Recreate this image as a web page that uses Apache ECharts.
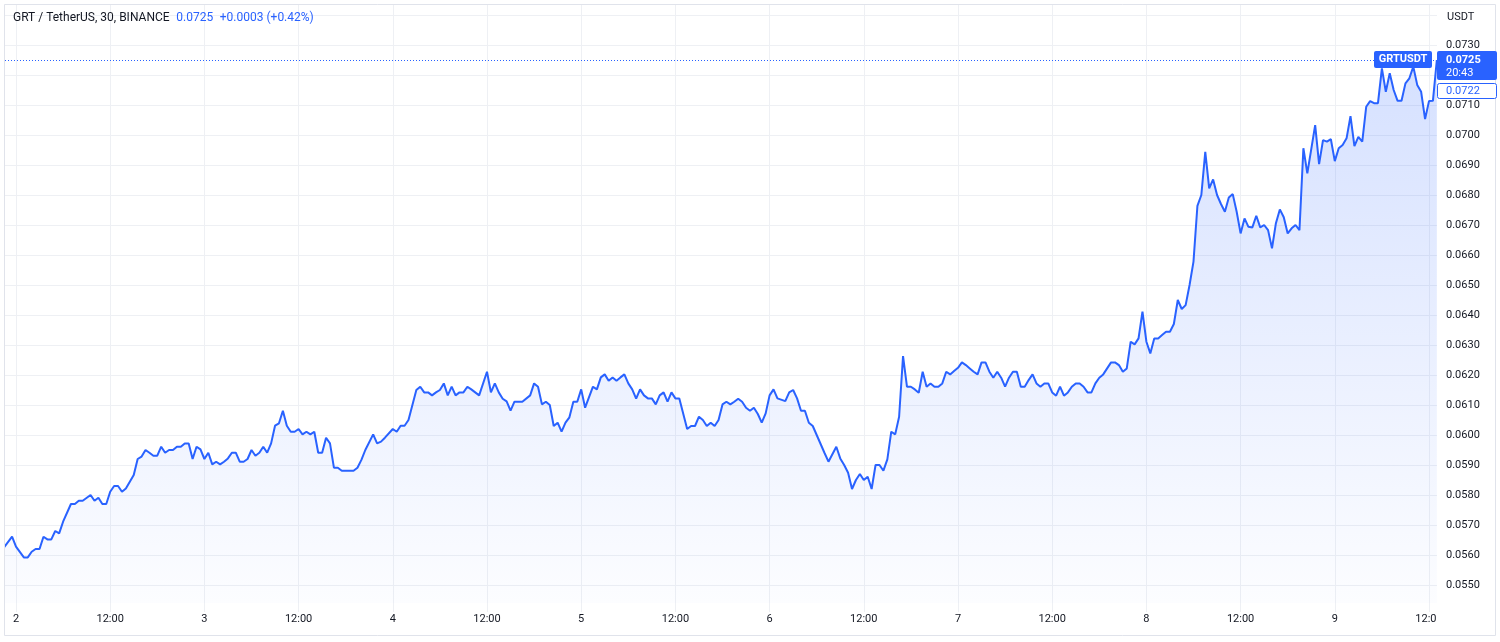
<!DOCTYPE html>
<html><head><meta charset="utf-8">
<script src="https://cdn.jsdelivr.net/npm/echarts@6/dist/echarts.min.js"></script>
<style>html,body{margin:0;padding:0;background:#fff}#c{width:1500px;height:642px}</style>
</head><body><div id="c"></div><script>
// 30-minute bars counted from day 2, 00:00
const bars = [-3,-1,0,2,3,4,5,6,7,8,9,10,11,12,14,15,16,17,19,20,21,22,23,24,25,26,27,28,30,31,32,33,34,35,36,37,38,39,40,41,42,43,44,45,46,47,48,49,50,51,52,53,54,55,56,57,58,59,60,61,62,63,64,65,66,67,68,69,70,71,72,73,74,75,76,77,78,79,80,81,82,83,84,86,87,88,89,91,92,93,94,96,97,98,99,100,102,103,104,105,106,107,108,109,110,111,112,113,114,115,116,117,118,120,121,122,123,124,125,126,127,129,131,132,133,134,135,136,137,138,139,140,141,142,143,144,145,147,148,149,150,151,152,153,154,155,156,157,158,159,160,161,162,163,164,165,166,167,168,169,171,172,173,174,175,176,177,178,179,180,181,182,183,184,185,186,187,188,189,190,191,192,193,194,196,197,198,199,200,201,202,203,204,205,206,207,209,210,211,212,213,214,215,216,217,218,219,220,221,222,223,224,225,226,227,228,229,230,231,232,233,234,235,236,237,238,239,240,241,242,243,244,245,246,247,248,249,250,251,252,253,254,255,256,257,258,259,260,261,262,263,264,265,266,267,268,269,270,271,272,273,274,275,276,277,278,279,280,281,282,283,284,285,286,287,288,289,290,291,292,293,294,295,296,297,298,299,300,301,302,303,304,305,306,307,308,309,310,311,312,313,314,315,316,317,318,319,320,321,322,323,324,325,326,327,328,329,331,332,333,334,335,336,337,338,339,340,341,342,343,344,345,346,347,348,349,350,351,352,353,354,355,356,357,358,359,360,361,362];
const closes = [0.05626,0.05661,0.05628,0.05592,0.05592,0.05611,0.05620,0.05620,0.05661,0.05652,0.05652,0.05680,0.05672,0.05711,0.05770,0.05770,0.05781,0.05781,0.05800,0.05781,0.05791,0.05770,0.05770,0.05811,0.05830,0.05830,0.05811,0.05822,0.05867,0.05920,0.05928,0.05950,0.05941,0.05931,0.05931,0.05961,0.05941,0.05950,0.05950,0.05961,0.05961,0.05972,0.05972,0.05920,0.05961,0.05952,0.05920,0.05941,0.05902,0.05911,0.05902,0.05911,0.05922,0.05941,0.05941,0.05911,0.05911,0.05920,0.05950,0.05931,0.05941,0.05961,0.05941,0.05972,0.06031,0.06039,0.06081,0.06031,0.06011,0.06011,0.06020,0.06002,0.06011,0.06002,0.06011,0.05941,0.05941,0.05991,0.05972,0.05891,0.05891,0.05881,0.05881,0.05881,0.05891,0.05917,0.05950,0.06002,0.05972,0.05978,0.05991,0.06020,0.06011,0.06031,0.06031,0.06050,0.06150,0.06161,0.06142,0.06142,0.06132,0.06142,0.06150,0.06172,0.06132,0.06161,0.06132,0.06142,0.06142,0.06161,0.06152,0.06142,0.06132,0.06211,0.06142,0.06172,0.06142,0.06121,0.06112,0.06081,0.06111,0.06111,0.06132,0.06172,0.06161,0.06102,0.06111,0.06100,0.06030,0.06041,0.06011,0.06041,0.06059,0.06111,0.06111,0.06152,0.06091,0.06161,0.06152,0.06192,0.06202,0.06181,0.06192,0.06181,0.06192,0.06202,0.06172,0.06152,0.06121,0.06152,0.06132,0.06122,0.06122,0.06102,0.06132,0.06142,0.06111,0.06142,0.06122,0.06122,0.06020,0.06030,0.06030,0.06061,0.06050,0.06030,0.06041,0.06030,0.06050,0.06102,0.06111,0.06102,0.06111,0.06121,0.06111,0.06091,0.06081,0.06091,0.06070,0.06041,0.06072,0.06132,0.06152,0.06122,0.06113,0.06142,0.06150,0.06122,0.06081,0.06081,0.06041,0.06030,0.06000,0.05970,0.05940,0.05911,0.05961,0.05922,0.05900,0.05874,0.05820,0.05850,0.05870,0.05850,0.05861,0.05820,0.05900,0.05900,0.05881,0.05919,0.06011,0.06002,0.06061,0.06263,0.06161,0.06161,0.06152,0.06141,0.06211,0.06161,0.06172,0.06161,0.06161,0.06172,0.06211,0.06202,0.06213,0.06224,0.06242,0.06233,0.06222,0.06211,0.06202,0.06242,0.06242,0.06211,0.06191,0.06211,0.06191,0.06161,0.06191,0.06211,0.06211,0.06161,0.06161,0.06183,0.06202,0.06172,0.06161,0.06172,0.06172,0.06142,0.06131,0.06161,0.06131,0.06142,0.06161,0.06172,0.06172,0.06161,0.06142,0.06142,0.06172,0.06191,0.06202,0.06222,0.06242,0.06242,0.06233,0.06211,0.06222,0.06311,0.06302,0.06322,0.06411,0.06311,0.06272,0.06322,0.06322,0.06333,0.06344,0.06344,0.06370,0.06450,0.06420,0.06433,0.06500,0.06578,0.06764,0.06800,0.06944,0.06822,0.06852,0.06800,0.06770,0.06744,0.06792,0.06803,0.06744,0.06672,0.06722,0.06694,0.06692,0.06731,0.06692,0.06700,0.06683,0.06622,0.06706,0.06752,0.06726,0.06672,0.06689,0.06700,0.06683,0.06956,0.06872,0.07033,0.06903,0.06983,0.06978,0.06986,0.06913,0.06956,0.06967,0.06989,0.07063,0.06963,0.06994,0.06978,0.07094,0.07113,0.07106,0.07106,0.07222,0.07144,0.07206,0.07150,0.07114,0.07114,0.07172,0.07189,0.07228,0.07167,0.07144,0.07053,0.07113,0.07114,0.0725];
const dayLabels = ['2','3','4','5','6','7','8','9'];
const midLabel = '12:00';
const priceGridValues = [0.055,0.056,0.057,0.058,0.059,0.060,0.061,0.062,0.063,0.064,0.065,0.066,0.067,0.068,0.069,0.070,0.071,0.072,0.073,0.074];
const priceLabelValues = [0.055,0.056,0.057,0.058,0.059,0.060,0.061,0.062,0.063,0.064,0.065,0.066,0.067,0.068,0.069,0.070,0.071,0.072,0.073];
const symbolTitle = 'GRT / TetherUS, 30, BINANCE';
const symbolName = 'GRTUSDT';
const lastPrice = 0.0725;
const changeText = '+0.0003 (+0.42%)';
const countdown = '20:43';
const refPrice = 0.0722;
const currency = 'USDT';

const FONT = 'Roboto, "Liberation Sans", sans-serif';
const BLUE = '#2962FF';
const GRID = '#eef0f4';
const TXT = '#131722';
const W = 1500, H = 642;
const gl = 5, gr = 63, gt = 5, gb = 39;

const tickBars = [];
dayLabels.forEach((d, i) => { tickBars.push(i * 48); tickBars.push(i * 48 + 24); });
const data = bars.map((b, i) => [b, closes[i]]);

const chart = echarts.init(document.getElementById('c'));
chart.setOption({
  animation: false,
  backgroundColor: '#ffffff',
  grid: { left: gl, right: gr, top: gt, bottom: gb },
  xAxis: {
    type: 'value', min: -2.8, max: 362.04,
    axisLine: { show: false },
    axisTick: { show: true, customValues: tickBars, length: 9, lineStyle: { color: GRID } },
    axisLabel: {
      customValues: tickBars, color: TXT, fontSize: 11, fontFamily: FONT, margin: 11,
      formatter: v => (v % 48 === 0 ? dayLabels[v / 48] : midLabel)
    },
    splitLine: { show: true, lineStyle: { color: GRID, width: 1 } }
  },
  yAxis: {
    type: 'value', position: 'right', min: 0.0544, max: 0.0743333,
    axisLine: { show: false },
    axisTick: { show: false, customValues: priceGridValues },
    axisLabel: {
      customValues: priceLabelValues, color: TXT, fontSize: 11, fontFamily: FONT,
      margin: 9, align: 'left', formatter: v => v.toFixed(4)
    },
    splitLine: { show: true, lineStyle: { color: GRID, width: 1 } }
  },
  series: [{
    type: 'line', data: data, showSymbol: false, symbol: 'none',
    lineStyle: { color: BLUE, width: 2 },
    areaStyle: {
      origin: 'start',
      color: new echarts.graphic.LinearGradient(0, 0, 0, 1, [
        { offset: 0, color: 'rgba(41,98,255,0.28)' },
        { offset: 1, color: 'rgba(41,98,255,0.02)' }
      ])
    },
    markLine: {
      silent: true, symbol: ['none', 'none'], label: { show: false }, precision: 6,
      lineStyle: { type: [1, 2], color: BLUE, width: 1 },
      data: [{ yAxis: lastPrice }]
    }
  }]
});

const yLast = Math.round(chart.convertToPixel({ yAxisIndex: 0 }, lastPrice));
const plotRight = W - gr;
const boxL = plotRight;
const boxW = W - 3 - boxL;
chart.setOption({
  graphic: [
    { type: 'rect', z: 100, shape: { x: plotRight, y: H - gb + 1, width: W - plotRight - 5, height: gb - 8 }, style: { fill: '#fff' } },
    { type: 'rect', z: 101, shape: { x: 4.5, y: 4.5, width: W - 9, height: H - 11 }, style: { fill: 'none', stroke: '#e0e3eb', lineWidth: 1 } },
    { type: 'text', z: 102, left: 13, top: 12, style: {
      text: '{a|' + symbolTitle + '}  {b|' + lastPrice.toFixed(4) + '}  {b|' + changeText + '}',
      rich: { a: { fill: TXT, fontSize: 12, fontFamily: FONT }, b: { fill: BLUE, fontSize: 12, fontFamily: FONT } } } },
    { type: 'text', z: 102, left: plotRight + 10, top: 12, style: { text: currency, fill: TXT, fontSize: 11, fontFamily: FONT } },
    // symbol tag
    { type: 'rect', z: 103, shape: { x: plotRight - 63, y: yLast - 9, width: 58, height: 17, r: 2 }, style: { fill: BLUE } },
    { type: 'text', z: 104, x: plotRight - 34, y: yLast - 0.5, style: { text: symbolName, fill: '#fff', fontSize: 11, fontWeight: 'bold', fontFamily: FONT, align: 'center', verticalAlign: 'middle' } },
    // price + countdown box
    { type: 'rect', z: 103, shape: { x: boxL, y: yLast - 9, width: boxW, height: 29, r: 2 }, style: { fill: BLUE } },
    { type: 'text', z: 104, x: boxL + 9, y: yLast, style: { text: lastPrice.toFixed(4), fill: '#fff', fontSize: 11, fontWeight: 'bold', fontFamily: FONT, verticalAlign: 'middle' } },
    { type: 'text', z: 104, x: boxL + 9, y: yLast + 13, style: { text: countdown, fill: '#fff', fontSize: 11, fontFamily: FONT, verticalAlign: 'middle' } },
    // reference price box
    { type: 'rect', z: 103, shape: { x: boxL + 0.5, y: yLast + 23.5, width: boxW - 1, height: 15, r: 2 }, style: { fill: '#fff', stroke: BLUE, lineWidth: 1 } },
    { type: 'text', z: 104, x: boxL + 9, y: yLast + 31, style: { text: refPrice.toFixed(4), fill: BLUE, fontSize: 11, fontFamily: FONT, verticalAlign: 'middle' } }
  ]
});
</script></body></html>
